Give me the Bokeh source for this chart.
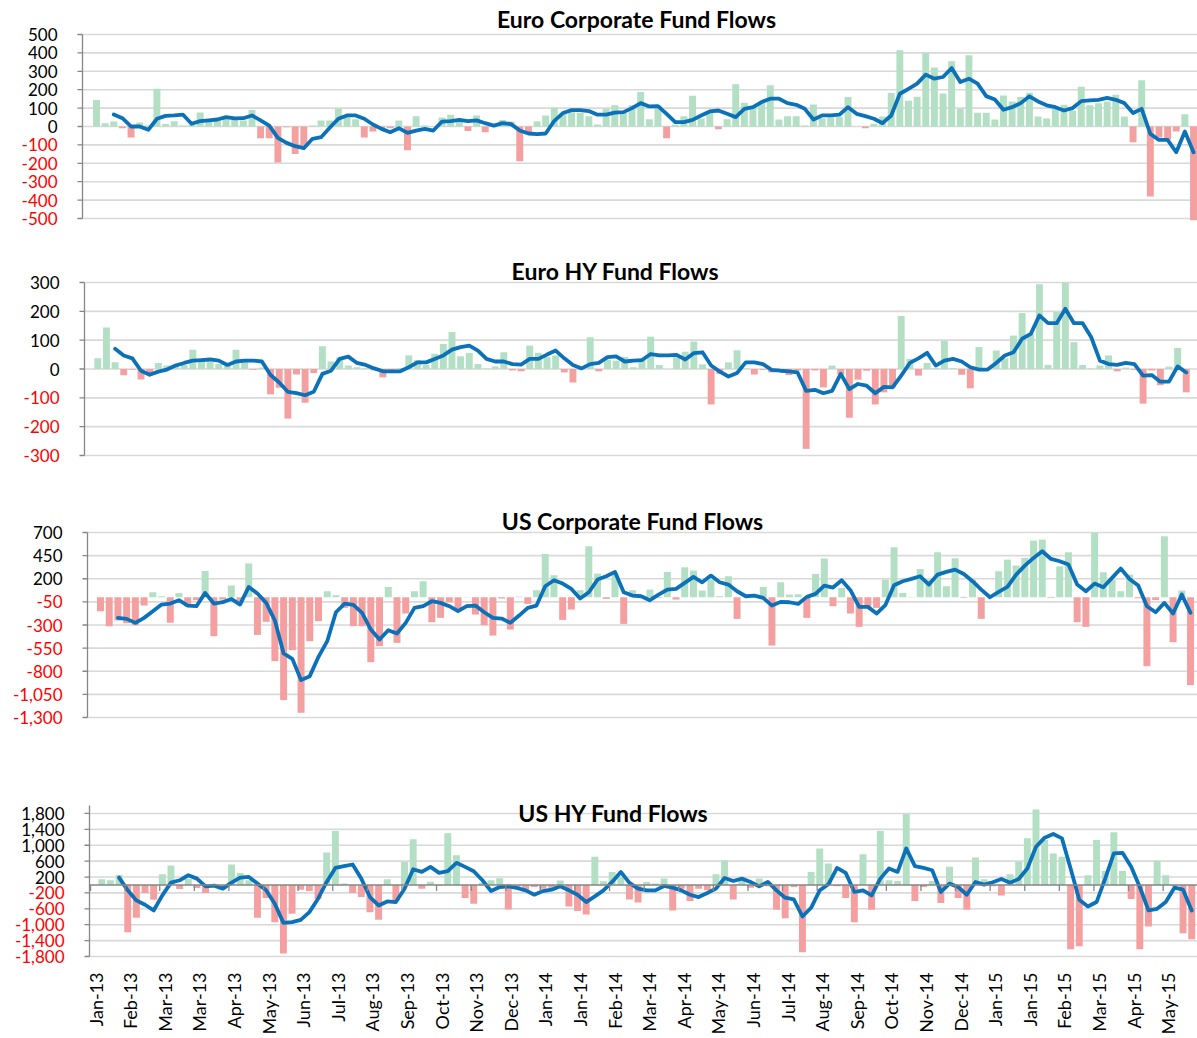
import math
from bokeh.plotting import figure
from bokeh.models import Range1d, ColumnDataSource
from bokeh.core.properties import value
from bokeh.layouts import column
from bokeh.embed import file_html
from bokeh.resources import INLINE

# ---------------- data (weekly flows) ----------------
EURO_CORP_BARS = [144, 18, 27, -9, -60, 22, 5, 205, 13, 29, 5, 10, 76, 30, 33, 51, 36, 33, 89, -64,
                  -64, -195, -4, -150, -115, 5, 33, 33, 96, 50, 40, -60, -27, -10, -10, 33, -129, 56, 5, 0,
                  49, 64, 38, -25, 60, -31, 5, 36, 27, -189, -35, 29, 60, 102, 75, 77, 75, 56, 11, 96,
                  115, 75, 115, 187, 40, 115, -64, 10, 56, 167, 44, 82, -15, 40, 229, 129, 100, 136, 224, 38,
                  56, 56, 5, 120, 45, 50, 51, 160, 0, -9, 15, 55, 182, 415, 140, 162, 400, 320, 180, 355,
                  95, 387, 75, 75, 38, 169, 136, 160, 184, 55, 44, 96, 118, 87, 216, 115, 127, 136, 173, 55,
                  -85, 251, -380, -60, -70, -27, 67, -509]
EURO_CORP_AVG = [None, None, 65, 45, 0, 0, -18, 42, 58, 60, 65, 15, 29, 33, 38, 51, 44, 45, 60, 33,
                 5, -62, -89, -107, -118, -67, -58, -7, 42, 60, 60, 42, 11, -13, -31, -9, -35, -22, -13, -22,
                 27, 29, 36, 29, 33, 18, 5, 18, 13, -22, -38, -42, -38, 31, 73, 89, 89, 84, 64, 64,
                 75, 78, 100, 127, 109, 111, 69, 24, 24, 36, 60, 82, 87, 69, 51, 96, 105, 133, 151, 151,
                 127, 118, 96, 38, 60, 60, 64, 105, 69, 56, 42, 18, 60, 178, 205, 233, 282, 260, 269, 318,
                 242, 260, 233, 165, 147, 91, 105, 127, 164, 136, 115, 105, 87, 100, 138, 142, 145, 155, 145, 127,
                 73, 96, -40, -73, -73, -140, -27, -140]

EURO_HY_BARS = [37, 144, 23, -22, -3, -36, -14, 21, 12, 14, 14, 67, 29, 26, 17, 12, 67, 29, -3, 5,
                -88, -65, -172, -19, -117, -14, 79, 26, 40, 12, 6, 3, -5, -29, -3, 3, 47, 31, 14, 53,
                87, 128, 44, 56, 17, 2, 9, 58, -5, -8, 81, 56, 41, 47, -12, -47, 2, 110, -8, 33,
                29, 42, 6, 37, 112, 14, 0, 41, 60, 95, 16, -123, -17, 23, 65, 2, -19, -3, -12, -5,
                -21, -5, -277, -5, -64, 12, -19, -169, -37, -6, -123, -81, -64, 184, 35, -23, 21, 3, 97, 3,
                -20, -67, 76, 2, 64, 37, 116, 194, 122, 294, 14, 198, 300, 93, 14, 2, 12, 47, -8, 5,
                -3, -120, -5, -56, 8, 73, -81]
EURO_HY_AVG = [None, None, 70, 47, 37, -6, -20, -9, -2, 12, 21, 29, 31, 33, 29, 14, 26, 29, 29, 26,
               -21, -47, -79, -84, -91, -79, -17, -6, 35, 43, 21, 14, 2, -8, -8, -8, 6, 23, 23, 35,
               47, 67, 76, 81, 64, 35, 26, 26, 17, 15, 35, 35, 50, 64, 37, 14, 2, 17, 21, 41,
               44, 26, 29, 31, 52, 47, 47, 49, 33, 55, 58, 12, -9, -26, -14, 23, 23, 17, -3, -6,
               -8, -12, -76, -72, -84, -76, -17, -70, -52, -58, -84, -62, -64, -23, 21, 37, 56, 12, 29, 35,
               26, 6, -2, -2, 21, 47, 58, 105, 122, 186, 159, 159, 209, 159, 159, 110, 29, 17, 14, 21,
               17, -23, -21, -44, -44, 9, -12]

US_CORP_BARS = [-151, -313, -250, -280, -302, -90, 54, 11, -277, 47, -100, -32, 284, -421, -25, 126, -61, 364, -407, -266,
                -691, -1112, -572, -1249, -475, -259, 65, 22, -115, -313, -313, -702, -529, 112, -493, -176, 65, 173, -270, -223,
                -54, -133, 3, -187, -302, -414, -14, -349, 7, -72, 76, 468, 238, -245, -133, 76, 551, 256, -18, 263,
                -288, 76, 0, 83, -7, 274, -25, 324, 288, 72, 191, 11, 227, -234, 0, 0, 112, -522, 162, 29,
                32, -223, 252, 418, -97, 101, -176, -320, -104, -115, 191, 540, 47, 4, 306, 191, 486, 119, 421, -7,
                191, -234, 0, 281, 407, 342, 425, 612, 623, -7, 335, 486, -270, -320, 695, 270, 191, 65, 245, -11,
                -745, -30, 659, -486, 72, -950]
US_CORP_AVG = [None, None, -223, -234, -277, -223, -151, -79, -68, -32, -90, -97, 47, -68, -54, -18, -79, 112, 40, -61,
               -252, -608, -666, -896, -853, -644, -475, -162, -68, -83, -169, -349, -457, -356, -392, -277, -115, -97, -43, -61,
               -97, -151, -97, -90, -162, -223, -230, -277, -198, -115, -90, 119, 184, 148, 90, -14, 54, 191, 227, 274,
               54, 18, 11, -32, 29, 83, 90, 155, 220, 162, 234, 162, 137, 65, 11, 18, -7, -90, -50, -54,
               -72, 4, 36, 126, 105, 184, 76, -104, -104, -176, -86, 130, 173, 198, 227, 137, 245, 274, 299, 252,
               173, 83, 0, 58, 112, 245, 342, 425, 497, 414, 389, 353, 137, 65, 148, 108, 209, 310, 198, 126,
               -97, -162, -61, -176, 29, -169]

US_HY_BARS = [143, 118, 253, -1190, -827, -203, -371, 270, 490, -101, 150, -76, -203, -20, -93, 515, 304, 118, -827, -329,
              -937, -1722, -726, -118, -152, -354, 819, 1359, 34, -203, -304, -684, -878, 143, -388, 582, 1148, -93, 84, -20,
              1300, 751, -329, -473, 59, 118, 169, -616, -93, -177, -50, -93, -68, 110, -540, -658, -743, 709, 93, 329,
              203, -363, -439, 76, 34, 160, -641, -93, -405, -93, -135, 270, 625, -363, 118, -68, 160, -30, -625, -836,
              -51, -1696, 329, 920, 540, -34, -329, -937, 776, -625, 1359, 118, 100, 1789, -405, -51, 101, -456, 456, -329,
              -625, 692, 143, -34, -262, 270, 582, 1173, 1900, 1131, 793, 709, -1620, -1545, 245, 1131, 354, 1325, 354, -354,
              -1620, -1047, 608, 245, -30, -1215, -1367]
US_HY_AVG = [None, None, 186, -135, -388, -498, -641, -262, 59, 118, 245, 160, -34, -17, -93, 59, 186, 203, 34, -135,
             -473, -954, -937, -878, -684, -346, 76, 430, 473, 515, 160, -304, -515, -414, -430, -93, 397, 329, 456, 304,
             346, 557, 456, 346, 118, -152, -51, -34, -76, -135, -245, -152, -118, -34, -135, -245, -430, -287, -135, 76,
             329, 51, -93, -135, -135, -25, -68, -135, -245, -304, -203, -93, 177, 101, 160, 76, -34, 76, -135, -321,
             -363, -793, -574, -135, 17, 430, 304, -177, -135, -262, 160, 414, 329, 920, 473, 430, 371, -177, 34, -51,
             -245, 76, 8, 68, 152, 59, 152, 414, 962, 1190, 1283, 1173, 414, -371, -540, -430, 160, 793, 810, 456,
             -51, -641, -599, -430, -68, -118, -641]

X_LABELS = ["Jan-13", "Feb-13", "Mar-13", "Mar-13", "Apr-13", "May-13", "Jun-13", "Jul-13", "Aug-13",
            "Sep-13", "Oct-13", "Nov-13", "Dec-13", "Jan-14", "Jan-14", "Feb-14", "Mar-14", "Apr-14",
            "May-14", "Jun-14", "Jul-14", "Aug-14", "Sep-14", "Oct-14", "Nov-14", "Dec-14", "Jan-15",
            "Jan-15", "Feb-15", "Mar-15", "Apr-15", "May-15"]
LABEL_EVERY = 4  # weeks between axis labels

TICKS_EURO_CORP = [-500, -400, -300, -200, -100, 0, 100, 200, 300, 400, 500]
TICKS_EURO_HY = [-300, -200, -100, 0, 100, 200, 300]
TICKS_US_CORP = [-1300, -1050, -800, -550, -300, -50, 200, 450, 700]
TICKS_US_HY = [-1800, -1400, -1000, -600, -200, 200, 600, 1000, 1400, 1800]

# ---------------- styling / geometry (page pixels) ----------------
GREEN = "#b3dfc4"
RED = "#f4a0a1"
BLUE = "#0b71b9"
GRID = "#d9d9d9"
AXIS = "#868686"
FONT = "Lato"
PAGE_W = 1197
PLOT_RIGHT = PAGE_W


def panel(title, bars, avg, ticks, yr, xr, fig_top, fig_bottom, plot_top, plot_bottom, plot_left,
          title_x, title_y, x_labels=None):
    x_start, x_end = xr
    y0, y1 = yr
    sx = (PLOT_RIGHT - plot_left) / (x_end - x_start)
    sy = (plot_bottom - plot_top) / (y1 - y0)
    x_lo = x_start - plot_left / sx
    y_hi = y1 + (plot_top - fig_top) / sy
    y_lo = y0 - (fig_bottom - plot_bottom) / sy

    p = figure(width=PAGE_W, height=fig_bottom - fig_top,
               x_range=Range1d(x_lo, x_end), y_range=Range1d(y_lo, y_hi),
               output_backend="svg", toolbar_location=None, min_border=0)
    p.outline_line_color = None
    p.background_fill_color = "white"
    p.border_fill_color = "white"
    p.grid.visible = False
    p.axis.visible = False

    n = len(ticks)
    # gridlines
    p.segment(x0=[x_start] * n, y0=ticks, x1=[x_end] * n, y1=ticks, line_color=GRID, line_width=1.6)

    # bars
    xs = list(range(len(bars)))
    colors = [GREEN if v >= 0 else RED for v in bars]
    p.vbar(x=xs, top=bars, bottom=0, width=0.8, color=colors, line_color=None)

    # moving-average line
    lx = [i for i, v in enumerate(avg) if v is not None]
    ly = [v for v in avg if v is not None]
    p.line(lx, ly, line_color=BLUE, line_width=3.8, line_join="round", line_cap="round")

    # y axis line, tick marks and coloured labels
    p.segment(x0=[x_start], y0=[y0], x1=[x_start], y1=[y1], line_color=AXIS, line_width=1.3)
    p.segment(x0=[x_start - 5 / sx] * n, y0=ticks, x1=[x_start] * n, y1=ticks,
              line_color=AXIS, line_width=1.3)
    lab = ColumnDataSource(dict(x=[x_start - 25 / sx] * n, y=ticks,
                                text=[f"{t:,}" for t in ticks],
                                color=["#ff0000" if t < 0 else "#000000" for t in ticks]))
    p.text(x="x", y="y", text="text", text_color="color", source=lab, text_align="right",
           text_baseline="middle", text_font=value(FONT), text_font_size=value("17px"))

    # title (centred where the reference centres it, in page pixels)
    p.text(x=[x_lo + title_x / sx], y=[y1 + (plot_top - title_y) / sy],
           text=[title], text_align="center", text_baseline="middle", text_font=value(FONT),
           text_font_size=value("23px"), text_font_style=value("bold"), text_color="#000000")

    if x_labels:
        # horizontal axis at zero with tick marks, labels at the bottom
        tick_pos = [x_start + 0.12 + LABEL_EVERY * k for k in range(len(x_labels))]
        m = len(tick_pos)
        p.segment(x0=[x_start], y0=[0], x1=[x_end], y1=[0], line_color=AXIS, line_width=1.5)
        p.segment(x0=tick_pos, y0=[0] * m, x1=tick_pos, y1=[-6 / sy] * m, line_color=AXIS, line_width=1.3)
        p.text(x=[t + 5 / sx for t in tick_pos], y=[y0 - 16 / sy] * m, text=x_labels,
               angle=math.pi / 2, text_align="right", text_baseline="middle",
               text_font=value(FONT), text_font_size=value("18px"), text_color="#000000")
    return p


p1 = panel("Euro Corporate Fund Flows", EURO_CORP_BARS, EURO_CORP_AVG, TICKS_EURO_CORP, (-500, 500),
           (-1.62, 127.46), fig_top=0, fig_bottom=250, plot_top=34, plot_bottom=218, plot_left=82,
           title_x=636, title_y=18)
p2 = panel("Euro HY Fund Flows", EURO_HY_BARS, EURO_HY_AVG, TICKS_EURO_HY, (-300, 300),
           (-1.54, 127.3), fig_top=250, fig_bottom=500, plot_top=282, plot_bottom=455, plot_left=84,
           title_x=615, title_y=270)
p3 = panel("US Corporate Fund Flows", US_CORP_BARS, US_CORP_AVG, TICKS_US_CORP, (-1300, 700),
           (-1.49, 125.8), fig_top=500, fig_bottom=775, plot_top=532, plot_bottom=717, plot_left=87,
           title_x=632, title_y=520)
p4 = panel("US HY Fund Flows", US_HY_BARS, US_HY_AVG, TICKS_US_HY, (-1800, 2000),
           (-1.42, 126.67), fig_top=775, fig_bottom=1036, plot_top=805, plot_bottom=956, plot_left=89,
           title_x=613, title_y=812, x_labels=X_LABELS)

layout = column(p1, p2, p3, p4)
open("out.html", "w").write(file_html(layout, INLINE, title="Fund Flows"))
